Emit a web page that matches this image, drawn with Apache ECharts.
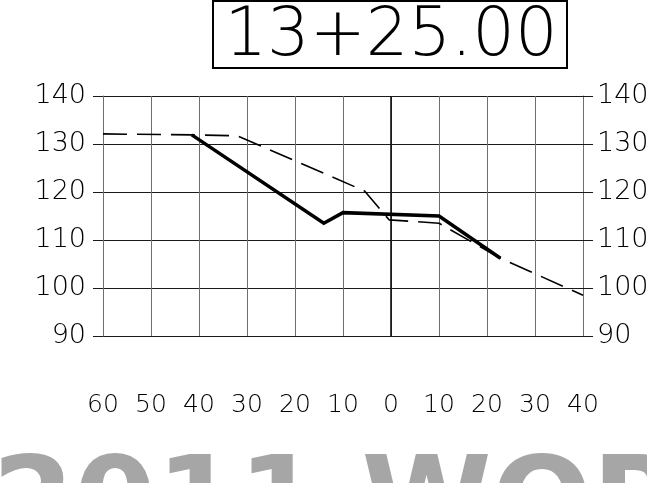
<!DOCTYPE html>
<html>
<head>
<meta charset="utf-8">
<script src="https://cdn.jsdelivr.net/npm/echarts@6/dist/echarts.min.js"></script>
<style>
  html, body { margin: 0; padding: 0; background: #fff; }
  #chart { width: 647px; height: 483px; }
</style>
</head>
<body>
<div id="chart"></div>
<script>
// station / profile data
const stationLabel = "13+25.00";
const watermark = "2011 WORLD";

// solid line (proposed)
const solidX = [-41.5, -14, -10, 10, 22.8];
const solidY = [131.9, 113.5, 115.7, 115.0, 106.2];

// dashed line (existing ground)
const dashX = [-60, -41.5, -32, -5.5, -0.4, 10, 22.8, 40];
const dashY = [132.1, 131.9, 131.7, 120.2, 114.2, 113.5, 106.2, 98.5];

const font = "DejaVu Sans";

function pairs(xs, ys) {
  return xs.map((x, i) => [x, ys[i]]);
}

const chart = echarts.init(document.getElementById("chart"));

const yAxisBase = {
  type: "value",
  min: 90,
  max: 140,
  interval: 10,
  // onZero off, otherwise the axis jumps to offset 0
  axisLine: { show: true, onZero: false, lineStyle: { color: "#6e6e6e", width: 1 } },
  axisTick: { show: true, inside: false, length: 10, lineStyle: { color: "#1a1a1a", width: 1 } },
  axisLabel: { color: "#000", fontSize: 27, fontFamily: font, fontWeight: 200 },
};

let option = {
  animation: false,
  backgroundColor: "#fff",
  grid: {
    left: 103, right: 64, top: 96, bottom: 147,
    containLabel: false,
    outerBoundsMode: "none",
  },
  xAxis: {
    type: "value",
    min: -60,
    max: 40,
    interval: 10,
    axisLine: { show: false },
    axisTick: { show: false },
    axisLabel: {
      margin: 57,
      color: "#000",
      fontSize: 25,
      fontFamily: font,
      fontWeight: 200,
      formatter: (v) => String(Math.abs(v)),
    },
    splitLine: { show: true, lineStyle: { color: "#6e6e6e", width: 1 } },
  },
  yAxis: [
    Object.assign({}, yAxisBase, {
      position: "left",
      axisLabel: Object.assign({}, yAxisBase.axisLabel, { margin: 17 }),
      splitLine: { show: true, lineStyle: { color: "#1a1a1a", width: 1 } },
    }),
    Object.assign({}, yAxisBase, {
      position: "right",
      axisLabel: Object.assign({}, yAxisBase.axisLabel, { margin: 14 }),
      splitLine: { show: false },
    }),
  ],
  series: [
    {
      name: "existing",
      type: "line",
      data: pairs(dashX, dashY),
      symbol: "none",
      lineStyle: { color: "#000", width: 1.6, type: [24, 10] },
      // centre line at offset 0
      markLine: {
        silent: true,
        symbol: "none",
        label: { show: false },
        lineStyle: { color: "#000", width: 1.5, type: "solid" },
        data: [{ xAxis: 0 }],
      },
      z: 3,
    },
    {
      name: "proposed",
      type: "line",
      data: pairs(solidX, solidY),
      symbol: "none",
      lineStyle: { color: "#000", width: 3.5, join: "miter" },
      z: 4,
    },
  ],
  graphic: [
    {
      type: "rect",
      shape: { x: 213, y: 1, width: 354, height: 67 },
      style: { fill: "none", stroke: "#000", lineWidth: 2 },
    },
    {
      type: "text",
      x: 391,
      y: 38,
      style: {
        text: stationLabel,
        font: "200 67px " + font,
        fill: "#000",
        align: "center",
        verticalAlign: "middle",
      },
    },
    {
      type: "text",
      x: -8,
      y: 509,
      z: -1,
      style: {
        text: watermark,
        font: "bold 118px " + font,
        fill: "#a6a6a6",
        align: "left",
        verticalAlign: "middle",
      },
    },
  ],
};

chart.setOption(option);
</script>
</body>
</html>
